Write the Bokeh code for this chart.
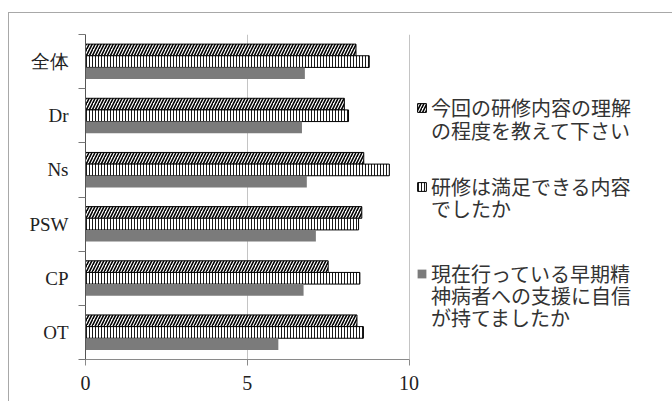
from bokeh.plotting import figure
from bokeh.models import (ColumnDataSource, Range1d, LinearAxis, FixedTicker, Legend, LegendItem)
from bokeh.transform import dodge
from bokeh.embed import file_html
from bokeh.resources import INLINE

# categories top to bottom
categories = ["全体", "Dr", "Ns", "PSW", "CP", "OT"]
understanding = [8.36, 8.00, 8.60, 8.54, 7.50, 8.39]   # 今回の研修内容の理解の程度
satisfaction = [8.77, 8.13, 9.39, 8.44, 8.48, 8.59]    # 研修は満足できる内容
confidence = [6.78, 6.69, 6.84, 7.12, 6.74, 5.96]      # 支援に自信
x_ticks = [0, 5, 10]
legend_lines = [
    ["今回の研修内容の理解", "の程度を教えて下さい"],
    ["研修は満足できる内容", "でしたか"],
    ["現在行っている早期精", "神病者への支援に自信", "が持てましたか"],
]

n = len(categories)
# category slot centres (top category at the top)
ypos = [n - 1 - i + 0.5 for i in range(n)]
src = ColumnDataSource(dict(y=ypos, cat=categories, u=understanding, s=satisfaction, c=confidence))

# plot area spans the whole width; the value axis 0..10 occupies its left part
x_end = 10 * (672 - 85) / (408 - 85)
p = figure(width=664, height=389, y_range=Range1d(0, n), x_range=Range1d(0, x_end),
           toolbar_location=None, output_backend="svg",
           y_axis_location=None, min_border_left=76, min_border_right=0,
           min_border_top=21, min_border_bottom=43)
p.margin = (12, 0, 0, 8)
p.styles = {"border-top": "1px solid #a8a8a8", "border-left": "1px solid #a8a8a8"}
p.outline_line_color = None
p.background_fill_color = "white"
p.border_fill_color = "white"

bh = 0.215
r1 = p.hbar(y=dodge("y", bh), left=0, right="u", height=bh, source=src,
            fill_color="white", line_color="black", line_width=1,
            hatch_pattern="/", hatch_color="black", hatch_scale=6, hatch_weight=1.6)
r2 = p.hbar(y="y", left=0, right="s", height=bh, source=src,
            fill_color="white", line_color="black", line_width=1,
            hatch_pattern="|", hatch_color="black", hatch_scale=3, hatch_weight=0.9)
r3 = p.hbar(y=dodge("y", -bh), left=0, right="c", height=bh, source=src,
            fill_color="#7b7b7b", line_color=None)
# transparent stand-in for legend continuation lines
ghost = p.hbar(y="y", left=0, right="c", height=bh, source=src,
               fill_alpha=0, line_alpha=0)

# x axis
xa = p.xaxis[0]
xa.ticker = FixedTicker(ticks=x_ticks)
xa.bounds = (0, 10)
xa.axis_line_color = "#8a8a8a"
xa.major_tick_line_color = "#8a8a8a"
xa.major_tick_in = 0
xa.major_tick_out = 6
xa.minor_tick_line_color = None
xa.major_label_text_font = "Liberation Serif"
xa.major_label_text_font_size = "20px"
xa.major_label_text_color = "#222222"
xa.major_label_standoff = 10

p.xgrid.ticker = FixedTicker(ticks=x_ticks[1:])
p.xgrid.grid_line_color = "#c4c4c4"
p.ygrid.grid_line_color = None

# boundary ticks axis (category separators)
bounds = list(range(n + 1))
ta = LinearAxis(ticker=FixedTicker(ticks=bounds),
                major_label_text_font_size="0px", major_tick_in=0, major_tick_out=7,
                major_label_standoff=0, minor_tick_line_color=None,
                axis_line_color="#555555", major_tick_line_color="#777777")
ta.major_label_overrides = {b: "" for b in bounds}
p.add_layout(ta, "left")

# category label axis
ca = LinearAxis(ticker=FixedTicker(ticks=ypos), axis_line_color=None,
                major_tick_line_color=None, major_tick_in=0, major_tick_out=0,
                minor_tick_line_color=None, major_label_standoff=10,
                major_label_text_font="Liberation Serif",
                major_label_text_font_size="19px", major_label_text_color="#222222")
ca.major_label_overrides = {yv: c for yv, c in zip(ypos, categories)}
p.add_layout(ca, "left")

# one single-line legend per text line, so line pitch can follow the reference
line_offsets = [[237, 214], [158, 136], [71, 49, 27]]
for renderer, lines, offs in zip([r1, r2, r3], legend_lines, line_offsets):
    for k, (t, ly) in enumerate(zip(lines, offs)):
        item = LegendItem(label=t, renderers=[renderer if k == 0 else ghost])
        lg = Legend(items=[item], location=(331, ly), glyph_width=11, glyph_height=11,
                    label_standoff=4, label_height=22, spacing=0, padding=0, margin=0,
                    border_line_color=None, background_fill_alpha=0,
                    label_text_font="Noto Sans CJK JP", label_text_font_size="20px",
                    label_text_color="#333333")
        p.add_layout(lg, "center")

open("out.html", "w").write(file_html(p, INLINE))
